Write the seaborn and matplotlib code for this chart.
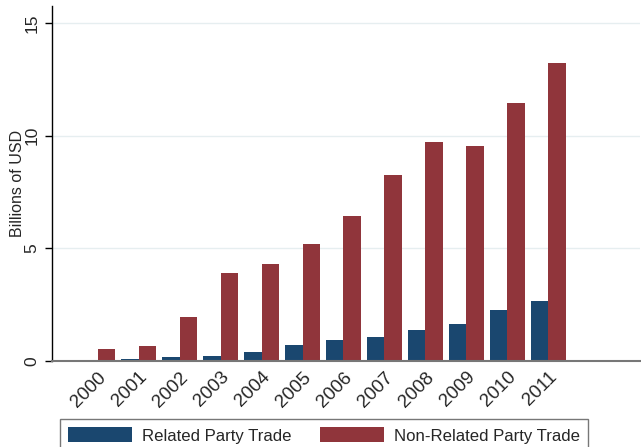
import pandas as pd
import seaborn as sns
import matplotlib.pyplot as plt
from matplotlib.patches import Patch

years = ['2000', '2001', '2002', '2003', '2004', '2005',
         '2006', '2007', '2008', '2009', '2010', '2011']
related = [0.03, 0.10, 0.18, 0.24, 0.41, 0.72, 0.94, 1.08, 1.39, 1.66, 2.24, 2.68]
non_related = [0.55, 0.67, 1.93, 3.90, 4.30, 5.20, 6.45, 8.27, 9.73, 9.55, 11.43, 13.22]
series = ['Related Party Trade', 'Non-Related Party Trade']
colors = ['#1a476f', '#90353b']

df = pd.DataFrame({
    'year': years * 2,
    'value': related + non_related,
    'series': [series[0]] * len(years) + [series[1]] * len(years),
})

sns.set_style('white')
plt.rcParams['font.family'] = ['Liberation Sans', 'DejaVu Sans']

fig = plt.figure(figsize=(6.41, 4.47), dpi=100)
ax = fig.add_axes([0.081, 0.1924, 0.918, 0.794])

sns.barplot(data=df, x='year', y='value', hue='series', palette=colors,
            width=0.86, saturation=1, linewidth=0, ax=ax, legend=False)

ax.set_xlim(-1.12, 13.25)
ax.set_ylim(0, 15.74)
ax.set_yticks([0, 5, 10, 15])
ax.yaxis.grid(True, color='#e6eef0', linewidth=1)
ax.set_axisbelow(True)

for s in ['top', 'right']:
    ax.spines[s].set_visible(False)
ax.spines['left'].set_color('black')
ax.spines['left'].set_linewidth(1)
ax.spines['bottom'].set_color('#777777')
ax.spines['bottom'].set_linewidth(1.5)

ax.tick_params(axis='y', left=True, length=5, width=1, color='black',
               labelsize=12.5, pad=4)
ax.tick_params(axis='x', bottom=False, labelsize=13.5, pad=2)
for lab in ax.get_yticklabels():
    lab.set_rotation(90)
    lab.set_va('center')
for lab in ax.get_xticklabels():
    lab.set_rotation(45)
    lab.set_ha('right')
    lab.set_rotation_mode('anchor')

ax.set_xlabel('')
ax.set_ylabel('Billions of USD', fontsize=11.5)
ax.yaxis.set_label_coords(-0.046, 0.5)

handles = [Patch(facecolor=c, edgecolor='none') for c in colors]
leg = fig.legend(handles, series, loc='lower left',
                 bbox_to_anchor=(0.08, -0.03), ncol=2, fontsize=12.1,
                 frameon=True, fancybox=False, edgecolor='#555555',
                 handlelength=3.8, handleheight=1.0, columnspacing=1.7,
                 handletextpad=0.6, borderpad=0.5)
leg.get_frame().set_linewidth(1)

fig.savefig('out.png', dpi=100)
